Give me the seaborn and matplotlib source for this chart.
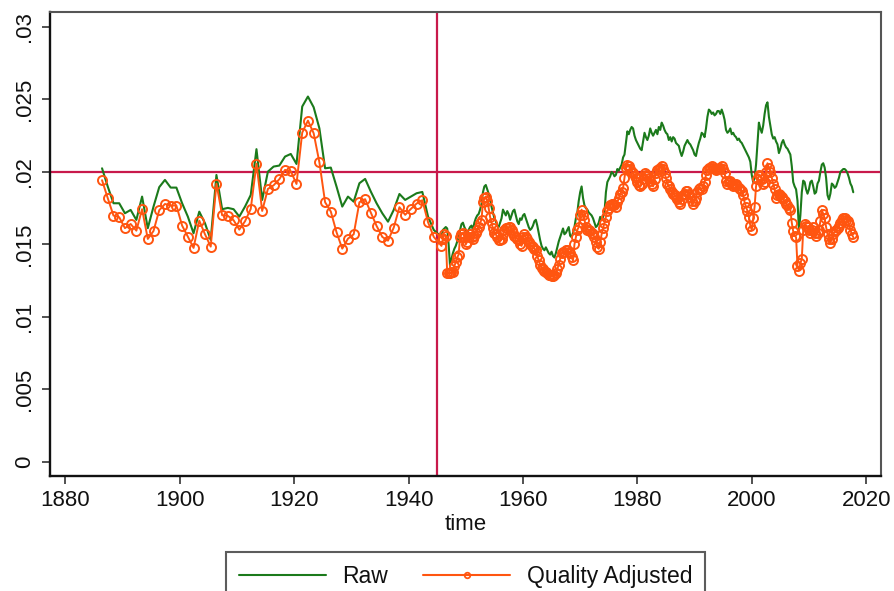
import numpy as np
import pandas as pd
import matplotlib
matplotlib.use("Agg")
import matplotlib.pyplot as plt
from matplotlib.lines import Line2D
import seaborn as sns

# ---------------- data ----------------
# annual observations before 1945
years_pre = np.arange(1886, 1945)
raw_pre = [
    0.02025, 0.01899, 0.01784, 0.01784, 0.01715, 0.01738, 0.01669, 0.01830, 0.01612, 0.01761,
    0.01895, 0.01945, 0.01892, 0.01892, 0.01784, 0.01692, 0.01577, 0.01726, 0.01646, 0.01531,
    0.01979, 0.01743, 0.01752, 0.01743, 0.01692, 0.01761, 0.01841, 0.02157, 0.01807, 0.02002,
    0.02037, 0.02044, 0.02106, 0.02124, 0.02055, 0.02451, 0.02520, 0.02446, 0.02301, 0.02025,
    0.02030, 0.01899, 0.01761, 0.01830, 0.01795, 0.01922, 0.01952, 0.01864, 0.01784, 0.01715,
    0.01657, 0.01738, 0.01848, 0.01807, 0.01830, 0.01853, 0.01862, 0.01692, 0.01600,
]
adj_pre = [
    0.01943, 0.01819, 0.01699, 0.01688, 0.01612, 0.01641, 0.01595, 0.01743, 0.01538, 0.01593,
    0.01736, 0.01779, 0.01768, 0.01768, 0.01630, 0.01554, 0.01476, 0.01664, 0.01570, 0.01485,
    0.01919, 0.01701, 0.01697, 0.01667, 0.01602, 0.01660, 0.01745, 0.02057, 0.01731, 0.01883,
    0.01908, 0.01950, 0.02014, 0.02005, 0.01917, 0.02271, 0.02354, 0.02267, 0.02067, 0.01791,
    0.01727, 0.01584, 0.01471, 0.01540, 0.01570, 0.01791, 0.01812, 0.01719, 0.01628, 0.01552,
    0.01526, 0.01616, 0.01757, 0.01704, 0.01745, 0.01782, 0.01805, 0.01653, 0.01552,
]

# quarterly observations from late 1945 on (one row per year: Q1..Q4)
times_post = np.arange(1945.75, 2017.8, 0.25)
raw_post = [
    0.0155,
    0.0160, 0.0161, 0.0162, 0.0161,   # 1946
    0.0150, 0.0135, 0.0140, 0.0144,   # 1947
    0.0147, 0.0149, 0.0152, 0.0155,   # 1948
    0.0160, 0.0164, 0.0165, 0.0162,   # 1949
    0.0160, 0.0158, 0.0160, 0.0162,   # 1950
    0.0163, 0.0160, 0.0165, 0.0168,   # 1951
    0.0170, 0.0171, 0.0174, 0.0178,   # 1952
    0.0186, 0.0190, 0.0191, 0.0188,   # 1953
    0.0185, 0.0181, 0.0176, 0.0172,   # 1954
    0.0168, 0.0166, 0.0163, 0.0162,   # 1955
    0.0165, 0.0168, 0.0174, 0.0172,   # 1956
    0.0170, 0.0173, 0.0171, 0.0167,   # 1957
    0.0170, 0.0173, 0.0174, 0.0170,   # 1958
    0.0166, 0.0164, 0.0168, 0.0167,   # 1959
    0.0170, 0.0171, 0.0168, 0.0165,   # 1960
    0.0162, 0.0160, 0.0161, 0.0163,   # 1961
    0.0166, 0.0167, 0.0163, 0.0158,   # 1962
    0.0153, 0.0149, 0.0147, 0.0146,   # 1963
    0.0148, 0.0146, 0.0144, 0.0143,   # 1964
    0.0145, 0.0142, 0.0141, 0.0144,   # 1965
    0.0148, 0.0152, 0.0155, 0.0158,   # 1966
    0.0161, 0.0157, 0.0158, 0.0160,   # 1967
    0.0162, 0.0156, 0.0155, 0.0158,   # 1968
    0.0162, 0.0168, 0.0172, 0.0180,   # 1969
    0.0186, 0.0190, 0.0182, 0.0177,   # 1970
    0.0175, 0.0174, 0.0172, 0.0171,   # 1971
    0.0170, 0.0168, 0.0165, 0.0162,   # 1972
    0.0163, 0.0165, 0.0169, 0.0167,   # 1973
    0.0169, 0.0172, 0.0186, 0.0193,   # 1974
    0.0195, 0.0197, 0.0200, 0.0199,   # 1975
    0.0197, 0.0198, 0.0202, 0.0201,   # 1976
    0.0203, 0.0205, 0.0210, 0.0212,   # 1977
    0.0220, 0.0228, 0.0226, 0.0229,   # 1978
    0.0231, 0.0230, 0.0225, 0.0222,   # 1979
    0.0220, 0.0218, 0.0216, 0.0215,   # 1980
    0.0221, 0.0227, 0.0224, 0.0222,   # 1981
    0.0225, 0.0230, 0.0227, 0.0225,   # 1982
    0.0227, 0.0229, 0.0226, 0.0231,   # 1983
    0.0229, 0.0234, 0.0232, 0.0229,   # 1984
    0.0227, 0.0226, 0.0222, 0.0224,   # 1985
    0.0221, 0.0224, 0.0223, 0.0220,   # 1986
    0.0219, 0.0218, 0.0214, 0.0211,   # 1987
    0.0214, 0.0218, 0.0220, 0.0222,   # 1988
    0.0220, 0.0219, 0.0217, 0.0215,   # 1989
    0.0212, 0.0211, 0.0216, 0.0220,   # 1990
    0.0223, 0.0227, 0.0226, 0.0224,   # 1991
    0.0230, 0.0238, 0.0243, 0.0242,   # 1992
    0.0240, 0.0241, 0.0239, 0.0240,   # 1993
    0.0242, 0.0242, 0.0240, 0.0243,   # 1994
    0.0240, 0.0236, 0.0229, 0.0227,   # 1995
    0.0228, 0.0230, 0.0226, 0.0227,   # 1996
    0.0225, 0.0224, 0.0222, 0.0223,   # 1997
    0.0221, 0.0220, 0.0218, 0.0216,   # 1998
    0.0214, 0.0212, 0.0210, 0.0207,   # 1999
    0.0198, 0.0193, 0.0196, 0.0205,   # 2000
    0.0220, 0.0234, 0.0230, 0.0227,   # 2001
    0.0232, 0.0240, 0.0246, 0.0248,   # 2002
    0.0238, 0.0232, 0.0226, 0.0223,   # 2003
    0.0224, 0.0221, 0.0219, 0.0213,   # 2004
    0.0216, 0.0220, 0.0222, 0.0219,   # 2005
    0.0217, 0.0216, 0.0214, 0.0212,   # 2006
    0.0204, 0.0193, 0.0190, 0.0188,   # 2007
    0.0180, 0.0160, 0.0170, 0.0186,   # 2008
    0.0194, 0.0193, 0.0188, 0.0185,   # 2009
    0.0188, 0.0193, 0.0194, 0.0190,   # 2010
    0.0185, 0.0186, 0.0192, 0.0194,   # 2011
    0.0200, 0.0205, 0.0206, 0.0203,   # 2012
    0.0196, 0.0184, 0.0181, 0.0185,   # 2013
    0.0192, 0.0191, 0.0189, 0.0190,   # 2014
    0.0193, 0.0196, 0.0200, 0.0201,   # 2015
    0.0202, 0.0202, 0.0201, 0.0199,   # 2016
    0.0196, 0.0192, 0.0190, 0.0186,   # 2017
]
adj_post = [
    0.0149,
    0.0154, 0.0157, 0.0156, 0.0130,   # 1946
    0.0130, 0.0130, 0.0131, 0.0131,   # 1947
    0.0135, 0.0138, 0.0141, 0.0143,   # 1948
    0.0155, 0.0157, 0.0158, 0.0155,   # 1949
    0.0150, 0.0152, 0.0155, 0.0157,   # 1950
    0.0155, 0.0154, 0.0156, 0.0158,   # 1951
    0.0160, 0.0162, 0.0165, 0.0167,   # 1952
    0.0179, 0.0182, 0.0183, 0.0180,   # 1953
    0.0175, 0.0169, 0.0165, 0.0161,   # 1954
    0.0158, 0.0157, 0.0155, 0.0153,   # 1955
    0.0153, 0.0154, 0.0157, 0.0160,   # 1956
    0.0161, 0.0161, 0.0162, 0.0162,   # 1957
    0.0160, 0.0158, 0.0156, 0.0155,   # 1958
    0.0154, 0.0153, 0.0150, 0.0149,   # 1959
    0.0155, 0.0157, 0.0155, 0.0154,   # 1960
    0.0152, 0.0150, 0.0149, 0.0148,   # 1961
    0.0147, 0.0146, 0.0142, 0.0139,   # 1962
    0.0136, 0.0134, 0.0133, 0.0132,   # 1963
    0.0131, 0.0130, 0.0129, 0.0129,   # 1964
    0.0128, 0.0128, 0.0129, 0.0130,   # 1965
    0.0133, 0.0136, 0.0140, 0.0144,   # 1966
    0.0145, 0.0145, 0.0146, 0.0146,   # 1967
    0.0145, 0.0144, 0.0141, 0.0139,   # 1968
    0.0150, 0.0155, 0.0160, 0.0162,   # 1969
    0.0170, 0.0174, 0.0170, 0.0167,   # 1970
    0.0162, 0.0160, 0.0160, 0.0159,   # 1971
    0.0158, 0.0157, 0.0155, 0.0152,   # 1972
    0.0148, 0.0147, 0.0152, 0.0157,   # 1973
    0.0161, 0.0165, 0.0169, 0.0173,   # 1974
    0.0175, 0.0177, 0.0178, 0.0178,   # 1975
    0.0177, 0.0176, 0.0179, 0.0182,   # 1976
    0.0185, 0.0186, 0.0189, 0.0196,   # 1977
    0.0203, 0.0205, 0.0204, 0.0202,   # 1978
    0.0200, 0.0199, 0.0197, 0.0196,   # 1979
    0.0193, 0.0191, 0.0190, 0.0192,   # 1980
    0.0195, 0.0199, 0.0198, 0.0197,   # 1981
    0.0196, 0.0194, 0.0192, 0.0190,   # 1982
    0.0195, 0.0199, 0.0201, 0.0202,   # 1983
    0.0203, 0.0204, 0.0202, 0.0199,   # 1984
    0.0196, 0.0192, 0.0190, 0.0188,   # 1985
    0.0186, 0.0185, 0.0184, 0.0183,   # 1986
    0.0181, 0.0179, 0.0178, 0.0181,   # 1987
    0.0184, 0.0185, 0.0187, 0.0187,   # 1988
    0.0185, 0.0183, 0.0180, 0.0178,   # 1989
    0.0180, 0.0182, 0.0186, 0.0188,   # 1990
    0.0189, 0.0188, 0.0190, 0.0193,   # 1991
    0.0198, 0.0201, 0.0203, 0.0203,   # 1992
    0.0204, 0.0203, 0.0202, 0.0201,   # 1993
    0.0202, 0.0203, 0.0203, 0.0204,   # 1994
    0.0202, 0.0199, 0.0194, 0.0192,   # 1995
    0.0193, 0.0194, 0.0192, 0.0190,   # 1996
    0.0191, 0.0192, 0.0190, 0.0189,   # 1997
    0.0188, 0.0187, 0.0184, 0.0179,   # 1998
    0.0176, 0.0173, 0.0169, 0.0163,   # 1999
    0.0160, 0.0168, 0.0176, 0.0190,   # 2000
    0.0195, 0.0198, 0.0197, 0.0195,   # 2001
    0.0192, 0.0193, 0.0200, 0.0206,   # 2002
    0.0203, 0.0200, 0.0196, 0.0192,   # 2003
    0.0188, 0.0182, 0.0184, 0.0185,   # 2004
    0.0184, 0.0183, 0.0181, 0.0180,   # 2005
    0.0178, 0.0177, 0.0175, 0.0174,   # 2006
    0.0165, 0.0159, 0.0156, 0.0155,   # 2007
    0.0135, 0.0132, 0.0137, 0.0140,   # 2008
    0.0160, 0.0164, 0.0163, 0.0162,   # 2009
    0.0160, 0.0158, 0.0160, 0.0162,   # 2010
    0.0158, 0.0156, 0.0158, 0.0160,   # 2011
    0.0166, 0.0174, 0.0171, 0.0168,   # 2012
    0.0162, 0.0157, 0.0154, 0.0151,   # 2013
    0.0154, 0.0157, 0.0159, 0.0160,   # 2014
    0.0161, 0.0163, 0.0165, 0.0167,   # 2015
    0.0168, 0.0168, 0.0167, 0.0166,   # 2016
    0.0164, 0.0160, 0.0157, 0.0155,   # 2017
]

x_ticks = [1880, 1900, 1920, 1940, 1960, 1980, 2000, 2020]
y_ticks = [0, 0.005, 0.01, 0.015, 0.02, 0.025, 0.03]
y_ticklabels = ["0", ".005", ".01", ".015", ".02", ".025", ".03"]
ref_year = 1945
ref_level = 0.02
series_names = ["Raw", "Quality Adjusted"]

# ---------------- build frame ----------------
time = np.concatenate([years_pre + 0.4, times_post])
df = pd.DataFrame({
    "time": time,
    "raw": np.concatenate([raw_pre, raw_post]),
    "adj": np.concatenate([adj_pre, adj_post]),
})

# ---------------- style ----------------
sns.set_style("white")
plt.rcParams["font.family"] = ["Liberation Sans", "DejaVu Sans"]

GREEN = "#1b7a1b"
ORANGE = "#ff5510"
CRIMSON = "#c8194b"

fig = plt.figure(figsize=(8.94, 5.91), dpi=100)
ax = fig.add_axes([50 / 894, 1 - 476 / 591, (881 - 50) / 894, (476 - 12) / 591])

ax.axvline(ref_year, color=CRIMSON, lw=1.6, zorder=1)
ax.axhline(ref_level, color=CRIMSON, lw=1.6, zorder=1)

sns.lineplot(data=df, x="time", y="raw", ax=ax, color=GREEN, lw=1.5,
             estimator=None, sort=False, zorder=2)
sns.lineplot(data=df, x="time", y="adj", ax=ax, color=ORANGE, lw=1.4,
             marker="o", markersize=6.5, markerfacecolor="none",
             markeredgecolor=ORANGE, markeredgewidth=1.4,
             estimator=None, sort=False, zorder=3)

ax.set_xlim(1877.3, 2022.6)
ax.set_ylim(-0.00097, 0.03103)
ax.set_xticks(x_ticks)
ax.set_xticklabels([str(t) for t in x_ticks])
ax.set_yticks(y_ticks)
ax.set_yticklabels(y_ticklabels, rotation=90, va="center")
ax.tick_params(axis="both", which="major", direction="out", length=6, width=1.1,
               color="#222222", labelsize=16, labelcolor="#111111",
               bottom=True, left=True, top=False, right=False)
ax.tick_params(axis="x", pad=4)
ax.tick_params(axis="y", pad=5)
ax.set_xlabel("time", fontsize=16, color="#111111", labelpad=2)
ax.set_ylabel("")

for side in ["left", "bottom"]:
    ax.spines[side].set_color("#111111")
    ax.spines[side].set_linewidth(1.7)
for side in ["top", "right"]:
    ax.spines[side].set_color("#555555")
    ax.spines[side].set_linewidth(1.5)

handles = [
    Line2D([], [], color=GREEN, lw=1.5),
    Line2D([], [], color=ORANGE, lw=1.5, marker="o", markersize=4,
           markerfacecolor="none", markeredgewidth=1.3),
]
leg = fig.legend(handles, series_names, loc="upper center",
                 bbox_to_anchor=(465.5 / 894, 1 - 552 / 591), ncol=2,
                 fontsize=16.5, frameon=True, fancybox=False, shadow=False,
                 handlelength=3.8, handletextpad=0.7, columnspacing=1.55,
                 borderpad=0.55, borderaxespad=0)
leg.get_frame().set_edgecolor("#333333")
leg.get_frame().set_linewidth(1.5)
for t in leg.get_texts():
    t.set_color("#111111")

fig.savefig("out.png", dpi=100)
